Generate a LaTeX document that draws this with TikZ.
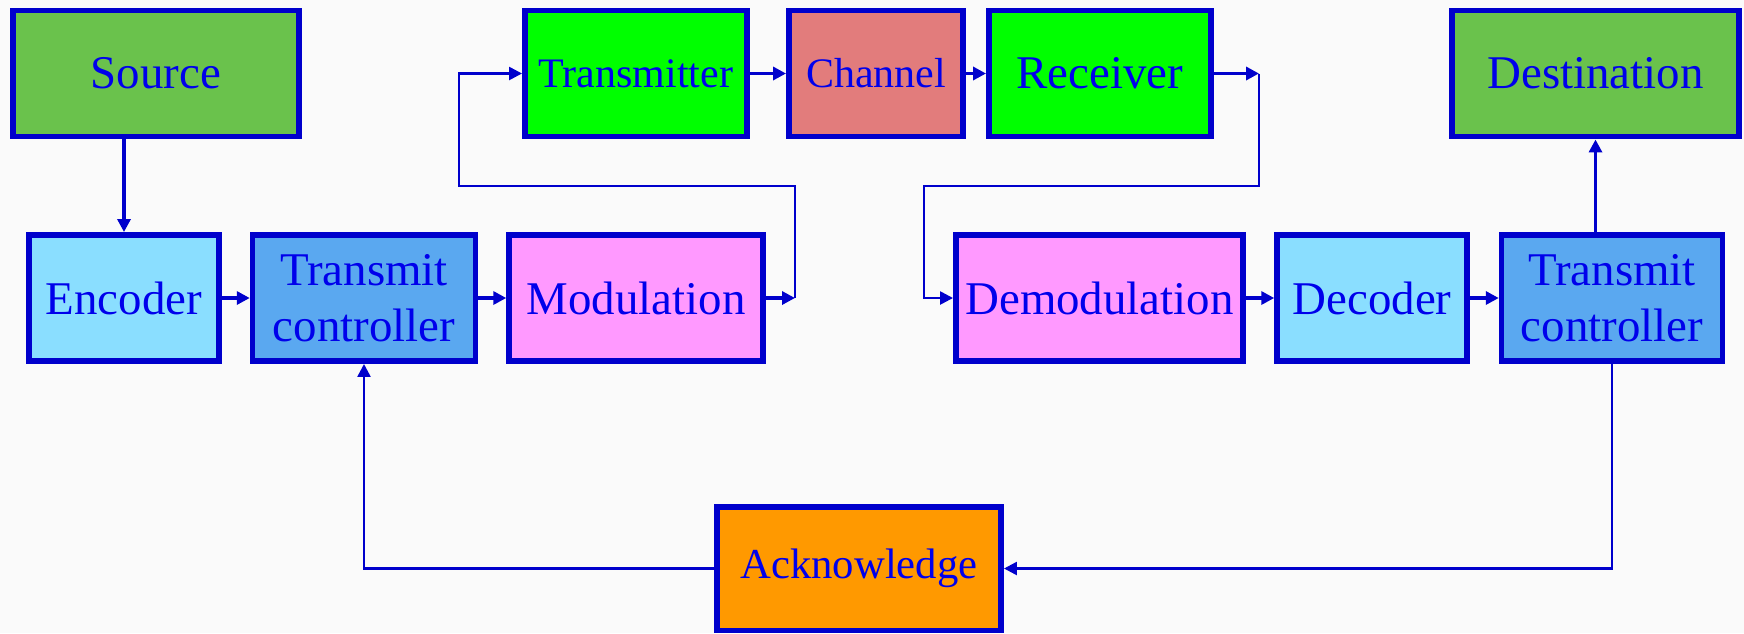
\documentclass[tikz,border=0pt]{standalone}
\usepackage{fontspec}
\setmainfont{Liberation Serif}
\usetikzlibrary{arrows.meta}
\definecolor{edgeblue}{RGB}{0,0,204}
\definecolor{textblue}{RGB}{0,0,235}
\definecolor{endgreen}{RGB}{106,194,76}
\definecolor{linegreen}{RGB}{0,255,0}
\definecolor{chanred}{RGB}{226,124,124}
\definecolor{codecyan}{RGB}{138,222,255}
\definecolor{ctrlblue}{RGB}{90,168,240}
\definecolor{modpink}{RGB}{255,153,255}
\definecolor{ackorange}{RGB}{255,153,0}
\definecolor{paper}{RGB}{250,250,250}
\begin{document}
\begin{tikzpicture}[
      x=0.02cm, y=-0.02cm,
      block/.style={rectangle, draw=edgeblue, line width=0.11cm, text=textblue,
        inner sep=0pt, minimum height=2.53cm, align=center,
        font=\fontsize{26.7}{31.9}\selectfont},
      small/.style={font=\fontsize{23.9}{28}\selectfont},
      link/.style={draw=edgeblue, line width=0.07cm,
        -{Triangle[length=0.26cm,width=0.26cm]}},
      loop/.style={draw=edgeblue, line width=0.05cm}
    ]

    \fill[paper] (0,0) rectangle (1744,633);
    \useasboundingbox (0,0) rectangle (1744,633);

    % top row
    \node[block, fill=endgreen, minimum width=5.73cm] (source) at (156,73.5) {Source};
    \node[block, small, fill=linegreen, minimum width=4.45cm] (trans) at (636,73.5) {Transmitter};
    \node[block, small, fill=chanred, minimum width=3.49cm] (chan) at (876,73.5) {Channel};
    \node[block, fill=linegreen, minimum width=4.45cm] (recv) at (1100,73.5) {Receiver};
    \node[block, fill=endgreen, minimum width=5.75cm] (dest) at (1595.5,73.5) {Destination};

    % middle row
    \node[block, fill=codecyan, minimum width=3.81cm] (enc) at (124,298) {Encoder};
    \node[block, fill=ctrlblue, minimum width=4.46cm] (tcl) at (364,298) {Transmit\\controller};
    \node[block, fill=modpink, minimum width=5.08cm] (mod) at (636,298) {Modulation};
    \node[block, fill=modpink, minimum width=5.75cm] (demod) at (1099.5,298) {Demodulation};
    \node[block, fill=codecyan, minimum width=3.80cm] (dec) at (1372,298) {Decoder};
    \node[block, fill=ctrlblue, minimum width=4.42cm] (tcr) at (1612,298) {Transmit\\controller};

    % bottom
    \node[block, fill=ackorange, minimum width=5.69cm, minimum height=2.47cm,
      font=\fontsize{24.3}{28}\selectfont] (ack) at (859,568.5) {Acknowledge};

    \coordinate (m1) at (795,298);
    \coordinate (m2) at (459,186);
    \coordinate (r1) at (1259,73.5);
    \coordinate (r2) at (924,186);

    \draw[link] (source.south -| enc) -- (enc.north);
    \draw[link] (enc) -- (tcl);
    \draw[link] (tcl) -- (mod);
    \draw[link] (mod.east) -- (m1);
    \draw[link, loop] (m1) |- (m2) |- (trans.west);
    \draw[link] (trans) -- (chan);
    \draw[link] (chan) -- (recv);
    \draw[link] (recv.east) -- (r1);
    \draw[link, loop] (r1) |- (r2) |- (demod.west);
    \draw[link] (demod) -- (dec);
    \draw[link] (dec) -- (tcr);
    \draw[link] (tcr.north -| dest) -- (dest.south);
    \draw[link, loop] (tcr.south) |- (ack.east);
    \draw[link, loop] (ack.west) -| (tcl.south);

    \end{tikzpicture}
\end{document}
